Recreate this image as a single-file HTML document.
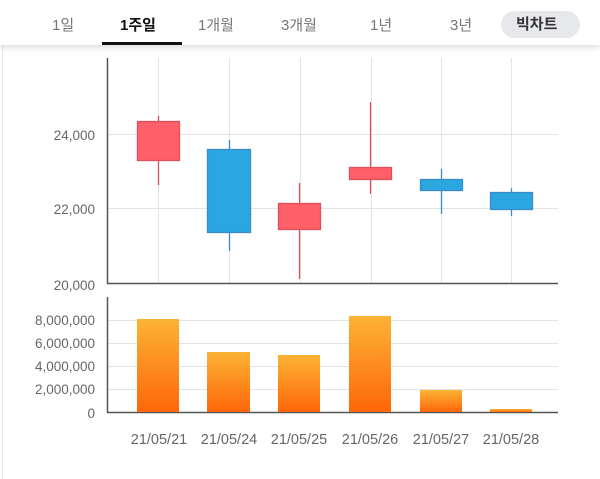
<!DOCTYPE html>
<html><head><meta charset="utf-8"><style>
body{margin:0;width:600px;height:479px;background:#fff;overflow:hidden;font-family:"Liberation Sans","Noto Sans CJK KR",sans-serif;position:relative}
.tabs{position:absolute;left:0;top:0;width:600px;height:45px;box-shadow:0 3px 6px rgba(0,0,0,0.12);background:#fff}
.t{position:absolute;top:14px;font-size:15px;color:#777}
</style></head><body>
<div style="position:absolute;left:2px;top:0;width:1px;height:479px;background:#e8e8e8"></div>
<div class="tabs">
<span class="t" style="left:52px">1일</span>
<span class="t" style="left:120px;color:#111;font-weight:bold">1주일</span>
<span class="t" style="left:198px">1개월</span>
<span class="t" style="left:281px">3개월</span>
<span class="t" style="left:370px">1년</span>
<span class="t" style="left:450px">3년</span>
<div style="position:absolute;left:501px;top:11px;width:79px;height:27px;border-radius:14px;background:#e6e8ec"></div>
<span class="t" style="left:516px;top:13px;color:#333;font-weight:bold">빅차트</span>
<div style="position:absolute;left:102px;top:42px;width:80px;height:3px;background:#111"></div>
</div>
<svg width="600" height="479" style="position:absolute;left:0;top:0" font-family="Liberation Sans, sans-serif">
<defs><linearGradient id="g" x1="0" y1="0" x2="0" y2="1"><stop offset="0" stop-color="#fbb335"/><stop offset="1" stop-color="#ff6608"/></linearGradient></defs>
<g stroke="#e3e3e3" stroke-width="1">
<line x1="158.5" y1="58" x2="158.5" y2="283"/><line x1="229.5" y1="58" x2="229.5" y2="283"/><line x1="300.5" y1="58" x2="300.5" y2="283"/><line x1="371.5" y1="58" x2="371.5" y2="283"/><line x1="441.5" y1="58" x2="441.5" y2="283"/><line x1="511.5" y1="58" x2="511.5" y2="283"/>
<line x1="108" y1="134.5" x2="558" y2="134.5"/><line x1="108" y1="208.5" x2="558" y2="208.5"/>
<line x1="108" y1="320.5" x2="558" y2="320.5"/><line x1="108" y1="343.5" x2="558" y2="343.5"/><line x1="108" y1="366.5" x2="558" y2="366.5"/><line x1="108" y1="389.5" x2="558" y2="389.5"/>
</g>
<g stroke="#555" stroke-width="1.5" fill="none">
<polyline points="107.5,58 107.5,283.5 558,283.5"/>
<polyline points="107.5,297 107.5,412.5 558,412.5"/>
</g>
<g font-size="13.5" fill="#666" text-anchor="end">
<text x="95" y="140">24,000</text><text x="95" y="214">22,000</text><text x="95" y="290">20,000</text>
<text x="95" y="325">8,000,000</text><text x="95" y="348">6,000,000</text><text x="95" y="371">4,000,000</text><text x="95" y="394">2,000,000</text><text x="95" y="418">0</text>
</g>
<g stroke-width="1.3">
<line x1="158.5" y1="116" x2="158.5" y2="185" stroke="#d9505c"/><rect x="137.5" y="121.5" width="42" height="39" fill="#ff5f69" stroke="#e0505c"/>
<line x1="229.5" y1="140" x2="229.5" y2="251" stroke="#3a8cc8"/><rect x="207.5" y="149.5" width="43" height="83" fill="#2aa7e0" stroke="#3a8cc8"/>
<line x1="299.5" y1="183" x2="299.5" y2="279" stroke="#d9505c"/><rect x="278.5" y="203.5" width="42" height="26" fill="#ff5f69" stroke="#e0505c"/>
<line x1="370.5" y1="102" x2="370.5" y2="194" stroke="#d9505c"/><rect x="349.5" y="167.5" width="42" height="12" fill="#ff5f69" stroke="#e0505c"/>
<line x1="441.5" y1="169" x2="441.5" y2="214" stroke="#3a8cc8"/><rect x="420.5" y="179.5" width="42" height="11" fill="#2aa7e0" stroke="#3a8cc8"/>
<line x1="511.5" y1="188" x2="511.5" y2="216" stroke="#3a8cc8"/><rect x="490.5" y="192.5" width="42" height="17" fill="#2aa7e0" stroke="#3a8cc8"/>
</g>
<g fill="url(#g)">
<rect x="137" y="319" width="42" height="93"/><rect x="207" y="352" width="43" height="60"/><rect x="278" y="355" width="42" height="57"/>
<rect x="349" y="316" width="42" height="96"/><rect x="420" y="390" width="42" height="22"/><rect x="490" y="409" width="42" height="3"/>
</g>
<g font-size="14.5" fill="#666" text-anchor="middle">
<text x="159" y="444">21/05/21</text><text x="229" y="444">21/05/24</text><text x="299" y="444">21/05/25</text><text x="370" y="444">21/05/26</text><text x="441" y="444">21/05/27</text><text x="511" y="444">21/05/28</text>
</g>
</svg>
</body></html>
